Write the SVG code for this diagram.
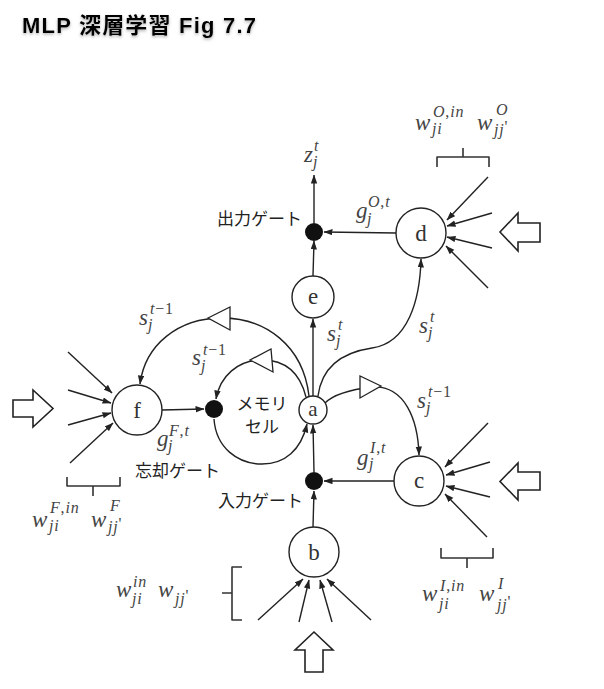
<svg xmlns="http://www.w3.org/2000/svg" width="604" height="689" viewBox="0 0 604 689">
<defs>
<style>
.ln{fill:none;stroke:#222;stroke-width:1.4}
.ar{marker-end:url(#ah)}
.nd{fill:#fff;stroke:#222;stroke-width:1.4}
.dot{fill:#111}
.tri{fill:#fff;stroke:#222;stroke-width:1.3;stroke-linejoin:miter}
.big{fill:#fff;stroke:#222;stroke-width:1.6;stroke-linejoin:miter}
.br{fill:none;stroke:#333;stroke-width:1.6;stroke-linejoin:round}
.nl{font-family:"Liberation Serif","DejaVu Serif",serif;font-size:23px;fill:#333;text-anchor:middle}
.m{font-family:"Liberation Serif","DejaVu Serif",serif;font-style:italic;font-size:23px;fill:#444}
.s{font-size:16px;letter-spacing:0.8px}
.u{font-style:normal}
.jp{font-family:"Noto Sans CJK JP","Noto Sans",sans-serif;font-size:17px;fill:#222}
.title{font-family:"Liberation Sans","Noto Sans CJK JP",sans-serif;font-weight:bold;font-size:22px;fill:#000}
</style>
<marker id="ah" markerUnits="userSpaceOnUse" markerWidth="9" markerHeight="7" refX="8.5" refY="3.2" orient="auto">
<path d="M0,0 L9,3.2 L0,6.4 Z" fill="#222"/>
</marker>
<filter id="sh" x="-5%" y="-30%" width="110%" height="160%">
<feDropShadow dx="0" dy="1.5" stdDeviation="1.5" flood-color="#777" flood-opacity="0.6"/>
</filter>
</defs>
<rect width="604" height="689" fill="#fff"/>
<text class="title" x="22" y="33" textLength="234" lengthAdjust="spacing" filter="url(#sh)">MLP 深層学習 Fig 7.7</text>

<g id="connectors">
<path class="ln ar" d="M314,223 V175"/>
<path class="ln ar" d="M313,276 L314,241"/>
<path class="ln ar" d="M313,396 V319"/>
<path class="ln ar" d="M313,527 L314,491"/>
<path class="ln ar" d="M314,472 L313,425"/>
<path class="ln ar" d="M396,233 L324,232"/>
<path class="ln ar" d="M394,481 L324,481"/>
<path class="ln ar" d="M162,410 L204,409"/>
<path class="ln ar" d="M306,397 C300,373 285,360 262,360 C238,360 220,376 216,399"/>
<path class="ln ar" d="M214,419 C216,448 238,464 262,464 C285,464 301,450 307,424"/>
<path class="ln ar" d="M309,396 C303,345 265,318 222,318 C178,318 145,345 140,384"/>
<path class="ln ar" d="M318,396 C322,365 345,352 372,348 C408,343 420,300 421,259"/>
<path class="ln ar" d="M325,403 C335,393 355,389 372,387 C405,385 418,420 419,455"/>
<polygon class="tri" points="208,318 230,307 230,330"/>
<polygon class="tri" points="250,360 271,349 273,372"/>
<polygon class="tri" points="381,386 360,376 360,398"/>
<path class="ln ar" d="M68,352 L112,393"/>
<path class="ln ar" d="M68,390 L111,403"/>
<path class="ln ar" d="M68,425 L111,413"/>
<path class="ln ar" d="M70,463 L113,423"/>
<path class="ln ar" d="M488,177 L447,220"/>
<path class="ln ar" d="M492,213 L447,226"/>
<path class="ln ar" d="M492,248 L447,237"/>
<path class="ln ar" d="M488,288 L446,246"/>
<path class="ln ar" d="M488,423 L445,467"/>
<path class="ln ar" d="M490,462 L446,475"/>
<path class="ln ar" d="M490,497 L446,486"/>
<path class="ln ar" d="M487,537 L445,494"/>
<path class="ln ar" d="M258,620 L303,579"/>
<path class="ln ar" d="M299,622 L309,580"/>
<path class="ln ar" d="M332,622 L320,580"/>
<path class="ln ar" d="M371,620 L327,579"/>
<polygon class="big" points="13,400 33,400 33,390 53,408.5 33,427 33,417 13,417"/>
<polygon class="big" points="540,223 518,223 518,213 500,232 518,251 518,242 540,242"/>
<polygon class="big" points="540,472 518,472 518,463 500,481.5 518,500 518,490 540,490"/>
<polygon class="big" points="305,672 305,650 295,650 314,632 333,650 323,650 323,672"/>
<path class="br" d="M67,477 V486 H120 V477 M93,486 V496"/>
<path class="br" d="M437,167 V157 H489 V167 M463,157 V148"/>
<path class="br" d="M441,548 V558 H493 V548 M467,558 V568"/>
<path class="br" d="M242,567 H232 V620 H242 M232,593 H222"/>
</g>

<g id="node-e"><circle class="nd" cx="313" cy="297" r="21"/><text class="nl" x="313" y="304">e</text></g>
<g id="node-a"><circle class="nd" cx="313" cy="410" r="14"/><text class="nl" x="313" y="416" style="font-size:21px">a</text></g>
<g id="node-b"><circle class="nd" cx="314" cy="552" r="25"/><text class="nl" x="314" y="560">b</text></g>
<g id="node-c"><circle class="nd" cx="419" cy="481" r="25"/><text class="nl" x="419" y="488">c</text></g>
<g id="node-d"><circle class="nd" cx="421" cy="233" r="25"/><text class="nl" x="421" y="241">d</text></g>
<g id="node-f"><circle class="nd" cx="137" cy="410" r="25"/><text class="nl" x="137" y="418">f</text></g>
<g id="gate-out"><circle class="dot" cx="314" cy="232" r="9"/></g>
<g id="gate-in"><circle class="dot" cx="314" cy="481" r="9"/></g>
<g id="gate-forget"><circle class="dot" cx="214" cy="409" r="9"/></g>
<g id="memory-cell"><text class="jp" x="262" y="410" text-anchor="middle">メモリ</text><text class="jp" x="262" y="433" text-anchor="middle">セル</text></g>

<g id="labels">
<text class="jp" x="217" y="225">出力ゲート</text>
<text class="jp" x="218" y="507">入力ゲート</text>
<text class="jp" x="135" y="477">忘却ゲート</text>
<text class="m" x="304" y="162">z</text><text class="m s" x="314" y="151">t</text><text class="m s" x="313" y="167">j</text>
<text class="m" x="356" y="218">g</text><text class="m s" x="368" y="207">O<tspan class="u">,</tspan>t</text><text class="m s" x="367" y="224">j</text>
<text class="m" x="327" y="341">s</text><text class="m s" x="338" y="330">t</text><text class="m s" x="336" y="346">j</text>
<text class="m" x="419" y="333">s</text><text class="m s" x="430" y="322">t</text><text class="m s" x="428" y="338">j</text>
<text class="m" x="417" y="408">s</text><text class="m s" x="428" y="397">t<tspan class="u">−1</tspan></text><text class="m s" x="426" y="413">j</text>
<text class="m" x="139" y="325">s</text><text class="m s" x="150" y="314">t<tspan class="u">−1</tspan></text><text class="m s" x="148" y="330">j</text>
<text class="m" x="192" y="365">s</text><text class="m s" x="203" y="355">t<tspan class="u">−1</tspan></text><text class="m s" x="201" y="371">j</text>
<text class="m" x="157" y="446">g</text><text class="m s" x="169" y="436">F<tspan class="u">,</tspan>t</text><text class="m s" x="168" y="451">j</text>
<text class="m" x="357" y="465">g</text><text class="m s" x="370" y="453">I<tspan class="u">,</tspan>t</text><text class="m s" x="369" y="469">j</text>
<text class="m" x="415" y="130">w</text><text class="m s" x="433" y="117">O<tspan class="u">,</tspan>in</text><text class="m s" x="432" y="134">ji</text>
<text class="m" x="477" y="130">w</text><text class="m s" x="496" y="115">O</text><text class="m s" x="494" y="135">jj<tspan class="u" dy="-3">'</tspan></text>
<text class="m" x="32" y="527">w</text><text class="m s" x="50" y="513">F<tspan class="u">,</tspan>in</text><text class="m s" x="49" y="531">ji</text>
<text class="m" x="91" y="527">w</text><text class="m s" x="110" y="511">F</text><text class="m s" x="108" y="532">jj<tspan class="u" dy="-3">'</tspan></text>
<text class="m" x="422" y="601">w</text><text class="m s" x="440" y="591">I<tspan class="u">,</tspan>in</text><text class="m s" x="439" y="609">ji</text>
<text class="m" x="479" y="601">w</text><text class="m s" x="498" y="589">I</text><text class="m s" x="497" y="610">jj<tspan class="u" dy="-3">'</tspan></text>
<text class="m" x="116" y="597">w</text><text class="m s" x="133" y="587">in</text><text class="m s" x="132" y="604">ji</text>
<text class="m" x="158" y="597">w</text><text class="m s" x="175" y="604">jj<tspan class="u" dy="-3">'</tspan></text>
</g>
</svg>
